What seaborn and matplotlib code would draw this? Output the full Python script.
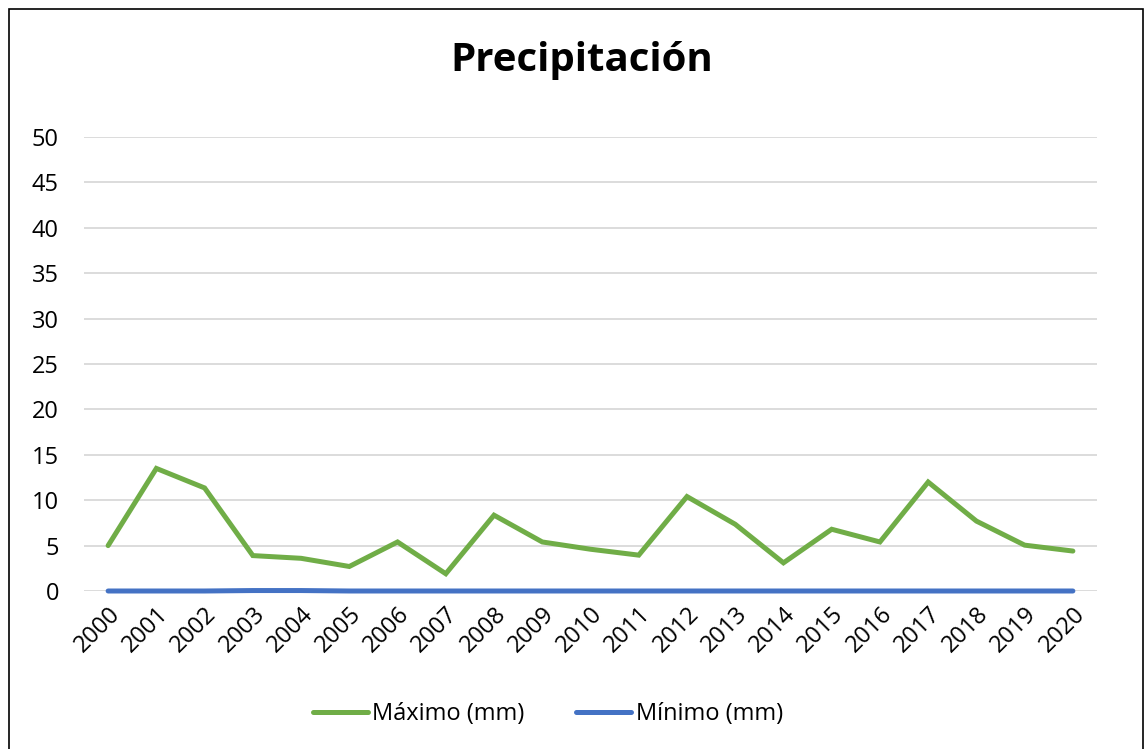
import matplotlib
matplotlib.use("Agg")
import matplotlib.pyplot as plt
import seaborn as sns
import pandas as pd
from matplotlib.patches import Rectangle

years = [str(y) for y in range(2000, 2021)]
maximo = [5.0, 13.5, 11.35, 3.9, 3.6, 2.7, 5.4, 1.9, 8.35, 5.4, 4.6,
          3.95, 10.4, 7.35, 3.1, 6.8, 5.4, 12.0, 7.7, 5.05, 4.4]
minimo = [0.0, 0.0, 0.0, 0.05, 0.05, 0.0, 0.0, 0.0, 0.0, 0.0, 0.0,
          0.0, 0.0, 0.0, 0.0, 0.0, 0.0, 0.0, 0.0, 0.0, 0.0]
series_names = ["Máximo (mm)", "Mínimo (mm)"]
series_colors = ["#70AD47", "#4472C4"]

df = pd.DataFrame({
    "Año": years * 2,
    "Valor": maximo + minimo,
    "Serie": [series_names[0]] * len(years) + [series_names[1]] * len(years),
})

sns.set_theme(style="white")
plt.rcParams["font.family"] = ["Open Sans", "DejaVu Sans"]
plt.rcParams["text.color"] = "black"

fig = plt.figure(figsize=(11.45, 7.49), dpi=100)
ax = fig.add_axes([84 / 1145, 1 - 591 / 749, (1097 - 84) / 1145, (591 - 137) / 749])

sns.lineplot(data=df, x="Año", y="Valor", hue="Serie", hue_order=series_names,
             palette=series_colors, linewidth=3.6, ax=ax, sort=False,
             solid_capstyle="round", solid_joinstyle="miter")
for line in ax.lines:
    line.set_clip_on(False)

ax.set_xlim(-0.5, len(years) - 0.5)
ax.set_ylim(0, 50)
ax.set_yticks(range(0, 51, 5))
ax.set_xticks(range(len(years)))
ax.set_xticklabels(years, rotation=45, ha="right", rotation_mode="anchor")
ax.grid(axis="y", color="#D9D9D9", linewidth=1.3)
ax.set_axisbelow(True)
for s in ax.spines.values():
    s.set_visible(False)
ax.tick_params(axis="both", length=0, labelsize=17, colors="black")
ax.tick_params(axis="x", pad=8)
ax.tick_params(axis="y", pad=18)
ax.set_xlabel("")
ax.set_ylabel("")

leg = ax.legend(loc="center", bbox_to_anchor=(0.458, (591 - 714) / (591 - 137)), ncol=2,
                frameon=False, fontsize=17, handlelength=2.3, handletextpad=0.2,
                columnspacing=2.2)
for h in leg.get_lines():
    h.set_linewidth(3.6)
    h.set_solid_capstyle("round")

fig.text(0.508, 1 - 61 / 749, "Precipitación", ha="center", va="center",
         fontsize=29, fontweight="bold", color="black")

fig.patches.append(Rectangle((9 / 1145, -0.01), 1134 / 1145, 1 - 9 / 749 + 0.01,
                             transform=fig.transFigure, fill=False,
                             edgecolor="black", linewidth=1.2))

fig.savefig("out.png", dpi=100)
